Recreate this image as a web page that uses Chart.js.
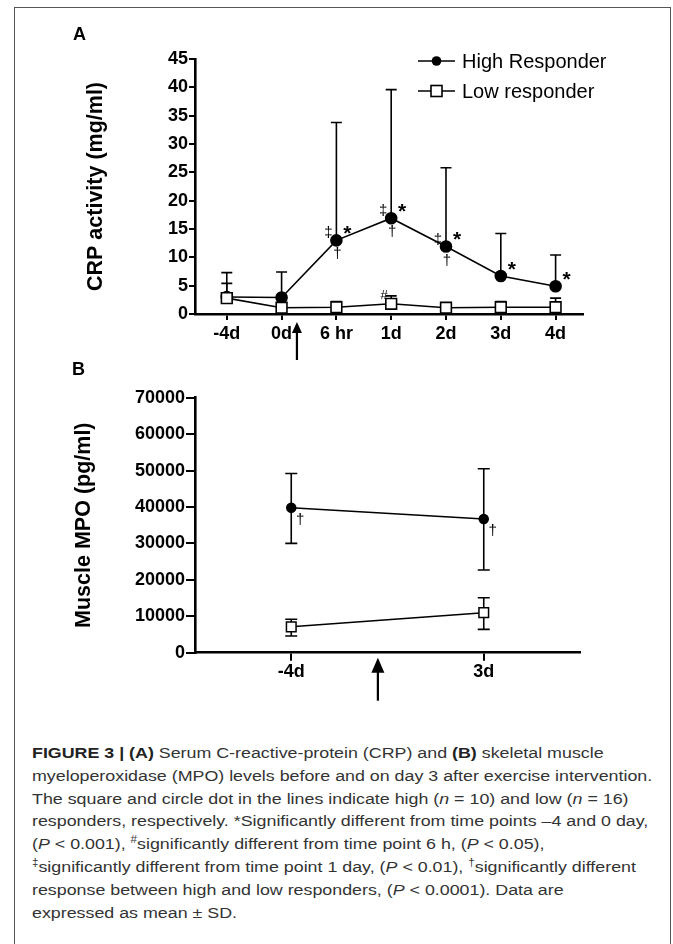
<!DOCTYPE html>
<html>
<head>
<meta charset="utf-8">
<script src="https://cdn.jsdelivr.net/npm/chart.js@4.4.1/dist/chart.umd.min.js"></script>
<style>
    body { margin: 0; background: #fff; width: 673px; height: 944px; overflow: hidden; position: relative; font-family: "Liberation Sans", Arial, sans-serif; }
    #frame { position: absolute; left: 14px; top: 7px; width: 655px; height: 1000px; border: 1px solid #555; }
    canvas { position: absolute; left: 0; }
    #chartA { top: 0; }
    #chartB { top: 380px; }
    .panel { position: absolute; font-weight: bold; font-size: 18px; color: #000; }
    #caption { position: absolute; left: 32px; top: 742px; font-size: 15.5px; line-height: 22.8px; color: #333; white-space: nowrap; transform: scaleX(1.15); transform-origin: left top; }
    #caption b { color: #222; }
    #caption sup { font-size: 0.65em; line-height: 0; vertical-align: 0.55em; }
</style>
</head>
<body>
<div id="frame"></div>
<canvas id="chartA" width="673" height="370"></canvas>
<canvas id="chartB" width="673" height="330"></canvas>
<div class="panel" style="left:73px;top:24px;">A</div>
<div class="panel" style="left:72px;top:359px;">B</div>
<div id="caption">
<b>FIGURE 3 | (A)</b> Serum C-reactive-protein (CRP) and <b>(B)</b> skeletal muscle<br>
myeloperoxidase (MPO) levels before and on day 3 after exercise intervention.<br>
The square and circle dot in the lines indicate high (<i>n</i> = 10) and low (<i>n</i> = 16)<br>
responders, respectively. *Significantly different from time points –4 and 0 day,<br>
(<i>P</i> &lt; 0.001), <sup>#</sup>significantly different from time point 6 h, (<i>P</i> &lt; 0.05),<br>
<sup>‡</sup>significantly different from time point 1 day, (<i>P</i> &lt; 0.01), <sup>†</sup>significantly different<br>
response between high and low responders, (<i>P</i> &lt; 0.0001). Data are<br>
expressed as mean ± SD.
</div>

<script>
// Panel A - CRP
const timepointsA = ['-4d', '0d', '6 hr', '1d', '2d', '3d', '4d'];
const highMeanA = [3.0, 2.9, 13.0, 16.9, 11.9, 6.7, 4.9];
const highSdTopA = [7.3, 7.4, 33.8, 39.6, 25.8, 14.2, 10.4];
const lowMeanA = [2.8, 1.1, 1.2, 1.8, 1.1, 1.2, 1.2];
const lowSdTopA = [5.4, 1.8, 2.2, 3.2, 1.9, 2.2, 2.8];
const highSigA = [[], [], ['‡', '*', '†'], ['‡', '*', '†'], ['‡', '*', '†'], ['*'], ['*']];
const lowSigA = [[], [], [], ['#'], [], [], []];
const crpTicks = [0, 5, 10, 15, 20, 25, 30, 35, 40, 45];
const exerciseA = 1.28; // arrow between 0d and 6 hr

// Panel B - MPO
const timepointsB = ['-4d', '3d'];
const highMeanB = [39800, 36700];
const highLoB = [30000, 22700];
const highHiB = [49200, 50500];
const lowMeanB = [7100, 11000];
const lowLoB = [4600, 6400];
const lowHiB = [9200, 15100];
const highSigB = [['†'], ['†']];
const mpoTicks = [0, 10000, 20000, 30000, 40000, 50000, 60000, 70000];
const exerciseB = 0.45;

const FONT = '"Liberation Sans", Arial, sans-serif';

// symbol offsets around a point (px)
const markPos = {
    '‡': { dx: -8, dy: -7, font: '15px ' + FONT },
    '*': { dx: 11, dy: -6, font: 'bold 21px ' + FONT },
    '†': { dx: 1, dy: 14, font: '15px ' + FONT },
    '#': { dx: -7, dy: -8, font: '13px ' + FONT }
};

const errorBars = {
    id: 'errorBars',
    beforeDatasetsDraw(chart) {
        const ctx = chart.ctx;
        const yScale = chart.scales.y;
        chart.data.datasets.forEach((ds, di) => {
            const meta = chart.getDatasetMeta(di);
            const cap = ds.capWidth || 11;
            meta.data.forEach((pt, i) => {
                const top = yScale.getPixelForValue(ds.errHi[i]);
                const bottom = ds.errLo ? yScale.getPixelForValue(ds.errLo[i]) : pt.y;
                ctx.save();
                ctx.strokeStyle = '#000';
                ctx.lineWidth = 1.6;
                ctx.beginPath();
                ctx.moveTo(pt.x, bottom);
                ctx.lineTo(pt.x, top);
                ctx.moveTo(pt.x - cap / 2, top);
                ctx.lineTo(pt.x + cap / 2, top);
                if (ds.errLo) {
                    ctx.moveTo(pt.x - cap / 2, bottom);
                    ctx.lineTo(pt.x + cap / 2, bottom);
                }
                ctx.stroke();
                ctx.restore();
            });
        });
    }
};

const sigMarks = {
    id: 'sigMarks',
    afterDatasetsDraw(chart) {
        const ctx = chart.ctx;
        chart.data.datasets.forEach((ds, di) => {
            if (!ds.marks) return;
            const meta = chart.getDatasetMeta(di);
            meta.data.forEach((pt, i) => {
                ds.marks[i].forEach(sym => {
                    const p = markPos[sym];
                    const off = (ds.markOffset && ds.markOffset[sym]) || p;
                    ctx.save();
                    ctx.fillStyle = '#000';
                    ctx.font = p.font;
                    ctx.textAlign = 'center';
                    ctx.textBaseline = 'middle';
                    ctx.fillText(sym, pt.x + off.dx, pt.y + off.dy);
                    ctx.restore();
                });
            });
        });
    }
};

const arrowMark = {
    id: 'arrowMark',
    afterDraw(chart, args, opts) {
        const ctx = chart.ctx;
        const x = chart.scales.x.getPixelForValue(opts.value);
        const axisY = chart.chartArea.bottom;
        ctx.save();
        ctx.fillStyle = '#000';
        ctx.strokeStyle = '#000';
        ctx.lineWidth = 2.2;
        ctx.beginPath();
        ctx.moveTo(x, axisY + opts.headBottom - 1);
        ctx.lineTo(x, axisY + opts.tail);
        ctx.stroke();
        ctx.beginPath();
        ctx.moveTo(x, axisY + opts.headTop);
        ctx.lineTo(x - opts.headWidth / 2, axisY + opts.headBottom);
        ctx.lineTo(x + opts.headWidth / 2, axisY + opts.headBottom);
        ctx.closePath();
        ctx.fill();
        ctx.restore();
    }
};

const legendA = {
    id: 'legendA',
    afterDraw(chart) {
        const ctx = chart.ctx;
        const rows = [
            { label: 'High Responder', y: 61, style: 'circle' },
            { label: 'Low responder', y: 91, style: 'rect' }
        ];
        rows.forEach(r => {
            ctx.save();
            ctx.strokeStyle = '#000';
            ctx.lineWidth = 1.6;
            ctx.beginPath();
            ctx.moveTo(418, r.y);
            ctx.lineTo(455, r.y);
            ctx.stroke();
            if (r.style === 'circle') {
                ctx.fillStyle = '#000';
                ctx.beginPath();
                ctx.arc(436.5, r.y, 4.8, 0, Math.PI * 2);
                ctx.fill();
            } else {
                ctx.fillStyle = '#fff';
                ctx.fillRect(431, r.y - 5.5, 11, 11);
                ctx.strokeRect(431, r.y - 5.5, 11, 11);
            }
            ctx.fillStyle = '#000';
            ctx.font = '20px ' + FONT;
            ctx.textBaseline = 'middle';
            ctx.fillText(r.label, 462, r.y + 1);
            ctx.restore();
        });
    }
};

function axisStyle(tickLen) {
    return {
        grid: { display: true, drawOnChartArea: false, drawTicks: true, tickLength: tickLen, color: '#000', lineWidth: 2 },
        border: { display: true, color: '#000', width: 2.6 }
    };
}

const tickFont = { family: FONT, size: 18, weight: 'bold' };
const titleFont = { family: FONT, size: 21.5, weight: 'bold' };

new Chart(document.getElementById('chartA'), {
    type: 'line',
    data: {
        datasets: [
            {
                label: 'Low responder',
                data: lowMeanA.map((v, i) => ({ x: i, y: v })),
                errHi: lowSdTopA,
                marks: lowSigA,
                borderColor: '#000',
                borderWidth: 1.6,
                pointStyle: 'rect',
                pointRadius: 7.6,
                pointBackgroundColor: '#fff',
                pointBorderColor: '#000',
                pointBorderWidth: 1.6,
                capWidth: 11,
                order: 0
            },
            {
                label: 'High Responder',
                data: highMeanA.map((v, i) => ({ x: i, y: v })),
                errHi: highSdTopA,
                marks: highSigA,
                borderColor: '#000',
                borderWidth: 1.6,
                pointStyle: 'circle',
                pointRadius: 5.5,
                pointBackgroundColor: '#000',
                pointBorderColor: '#000',
                capWidth: 11,
                order: 1
            }
        ]
    },
    options: {
        responsive: false,
        animation: false,
        events: [],
        layout: { padding: { top: 59, right: 90, left: 0, bottom: 0 } },
        plugins: {
            legend: { display: false },
            tooltip: { enabled: false },
            arrowMark: { value: exerciseA, headTop: 8, headBottom: 19, tail: 46, headWidth: 10 }
        },
        scales: {
            x: {
                type: 'linear',
                min: -0.58,
                max: 6.5,
                afterBuildTicks: s => { s.ticks = timepointsA.map((_, i) => ({ value: i })); },
                afterFit: s => { s.height = 56; },
                ticks: { callback: v => timepointsA[v], font: tickFont, color: '#000', padding: 3, maxRotation: 0, autoSkip: false },
                ...axisStyle(6)
            },
            y: {
                min: 0,
                max: 45,
                afterBuildTicks: s => { s.ticks = crpTicks.map(v => ({ value: v })); },
                afterFit: s => { s.width = 195; },
                ticks: { font: tickFont, color: '#000', padding: 1 },
                title: { display: true, text: 'CRP activity (mg/ml)', color: '#000', font: titleFont, padding: { top: 83, bottom: 0 } },
                ...axisStyle(6)
            }
        }
    },
    plugins: [errorBars, sigMarks, legendA, arrowMark]
});

new Chart(document.getElementById('chartB'), {
    type: 'line',
    data: {
        datasets: [
            {
                label: 'Low responder',
                data: lowMeanB.map((v, i) => ({ x: i, y: v })),
                errHi: lowHiB,
                errLo: lowLoB,
                borderColor: '#000',
                borderWidth: 1.5,
                pointStyle: 'rect',
                pointRadius: 6.8,
                pointBackgroundColor: '#fff',
                pointBorderColor: '#000',
                pointBorderWidth: 1.5,
                capWidth: 12,
                order: 0
            },
            {
                label: 'High Responder',
                data: highMeanB.map((v, i) => ({ x: i, y: v })),
                errHi: highHiB,
                errLo: highLoB,
                marks: highSigB,
                markOffset: { '†': { dx: 9, dy: 12 } },
                borderColor: '#000',
                borderWidth: 1.5,
                pointStyle: 'circle',
                pointRadius: 4.5,
                pointBackgroundColor: '#000',
                pointBorderColor: '#000',
                capWidth: 12,
                order: 1
            }
        ]
    },
    options: {
        responsive: false,
        animation: false,
        events: [],
        layout: { padding: { top: 17.7, right: 93, left: 0, bottom: 0 } },
        plugins: {
            legend: { display: false },
            tooltip: { enabled: false },
            arrowMark: { value: exerciseB, headTop: 5, headBottom: 20, tail: 48, headWidth: 13 }
        },
        scales: {
            x: {
                type: 'linear',
                min: -0.5,
                max: 1.5,
                afterBuildTicks: s => { s.ticks = timepointsB.map((_, i) => ({ value: i })); },
                afterFit: s => { s.height = 57.3; },
                ticks: { callback: v => timepointsB[v], font: tickFont, color: '#000', padding: 1, maxRotation: 0, autoSkip: false },
                ...axisStyle(8)
            },
            y: {
                min: 0,
                max: 70000,
                afterBuildTicks: s => { s.ticks = mpoTicks.map(v => ({ value: v })); },
                afterFit: s => { s.width = 195; },
                ticks: { callback: v => String(v), font: tickFont, color: '#000', padding: 1 },
                title: { display: true, text: 'Muscle MPO (pg/ml)', color: '#000', font: titleFont, padding: { top: 71, bottom: 0 } },
                ...axisStyle(9)
            }
        }
    },
    plugins: [errorBars, sigMarks, arrowMark]
});
</script>
</body>
</html>
